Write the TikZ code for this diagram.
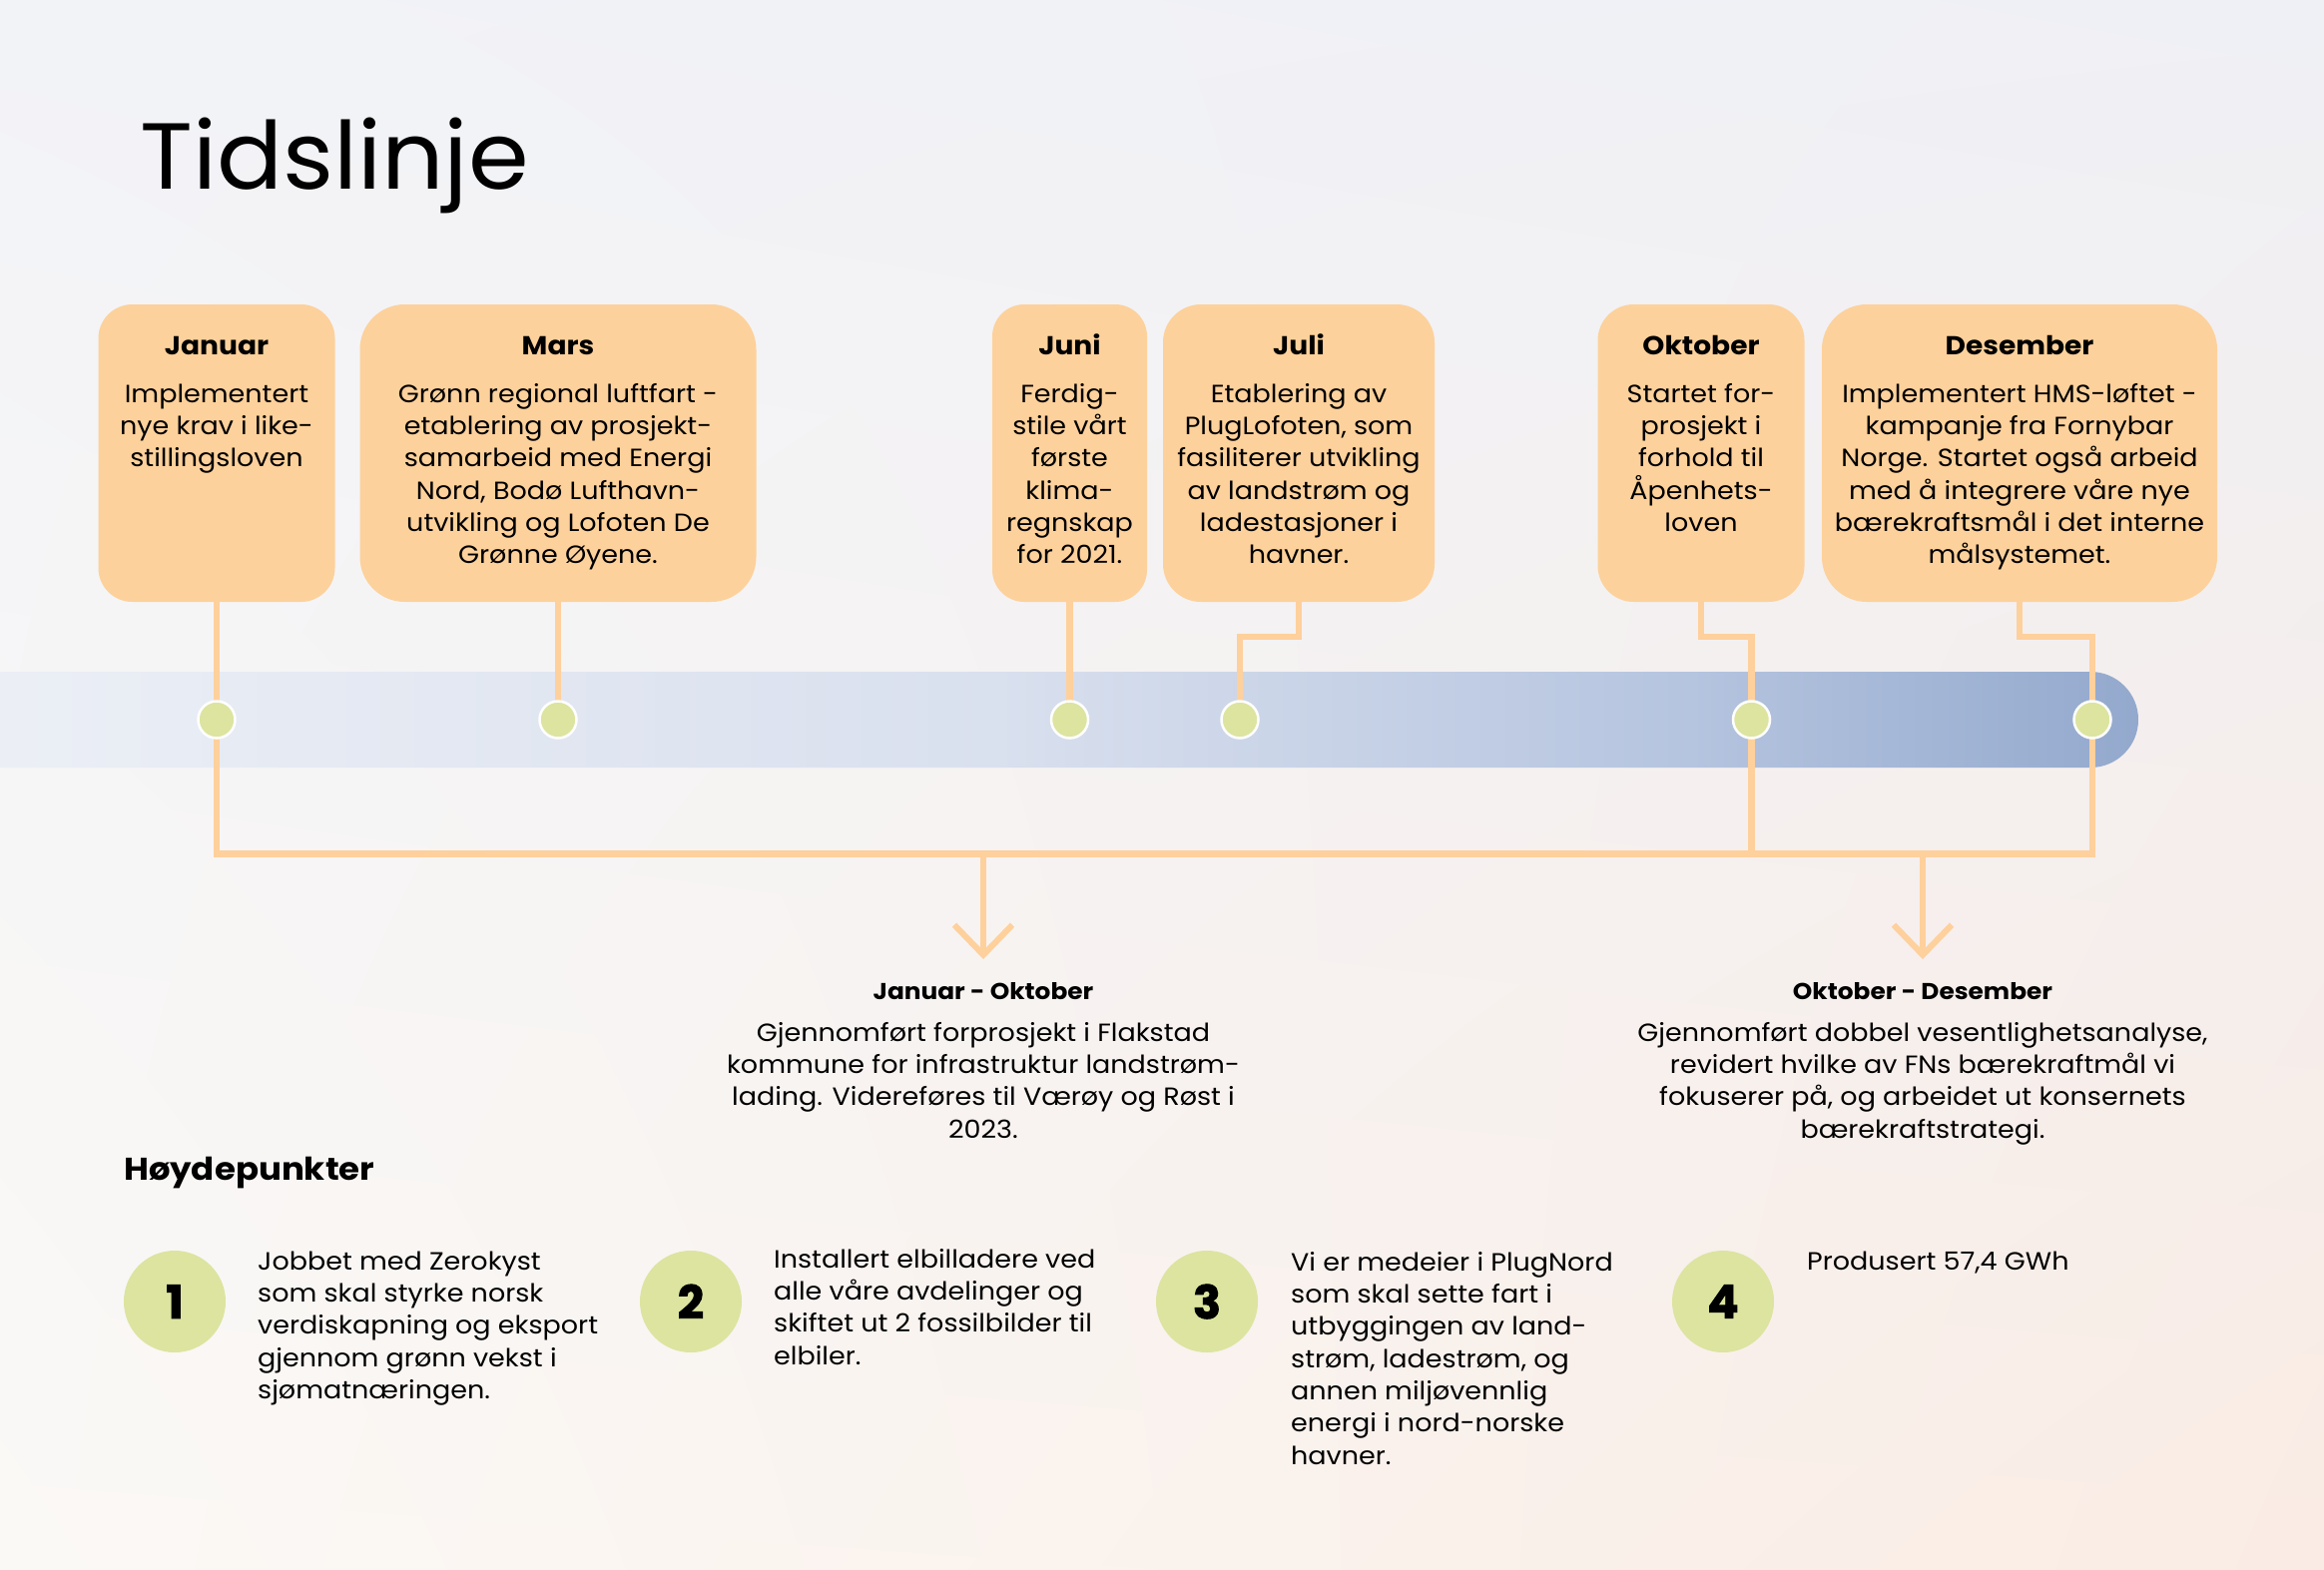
\documentclass[tikz,border=0pt]{standalone}
\usepackage{fontspec}
\setmainfont{Poppins}[FakeStretch=1.08]
\newfontfamily\titlefont{Poppins}[FakeStretch=1.04]
\newfontfamily\numfont{Poppins}[FakeBold=2]
\usetikzlibrary{arrows.meta,shadings}
\definecolor{peach}{HTML}{FDD19B}
\definecolor{peachline}{HTML}{FED09C}
\definecolor{dotc}{HTML}{DCE4A0}
\definecolor{bgTL}{HTML}{F2F3F7}
\definecolor{bgTR}{HTML}{EFF0F5}
\definecolor{bgBL}{HTML}{FBF9F6}
\definecolor{bgBR}{HTML}{FAECE4}
\definecolor{barA}{HTML}{EDF0F6}
\definecolor{barB}{HTML}{D9E0EE}
\definecolor{barC}{HTML}{B5C4DF}
\definecolor{barD}{HTML}{93A9CD}
\pgfdeclarehorizontalshading{barshade}{100bp}{color(0bp)=(barA); color(25bp)=(barA); color(49.5bp)=(barB); color(65bp)=(barC); color(75bp)=(barD); color(100bp)=(barD)}
\newcommand\tlbody{\fontsize{25}{32.3}\selectfont}
\newcommand\tlhead{\fontsize{26}{32}\selectfont\bfseries}
\newcommand\tlphead{\fontsize{23}{30}\selectfont\bfseries}
\newcommand\fl{\rule{0pt}{25pt}}
\tikzset{
  mbox/.style={fill=peach, draw=none, rounded corners=#1, inner sep=0pt},
  mtitle/.style={font=\tlhead, inner sep=0pt, anchor=base},
  ptitle/.style={font=\tlphead, inner sep=0pt, anchor=base},
  mbody/.style={font=\tlbody, align=center, inner sep=0pt, anchor=north},
  hbody/.style={font=\tlbody, align=left, inner sep=0pt, anchor=north west},
  conn/.style={draw=peachline, line width=6.5pt},
  tdot/.style={circle, fill=dotc, draw=white, line width=2.5pt, minimum size=37pt, inner sep=0pt},
  ncirc/.style={circle, fill=dotc, minimum size=102pt, inner sep=0pt, font=\numfont\bfseries\fontsize{46}{46}\selectfont},
  arr/.style={conn, -{Straight Barb[length=30pt, width=58pt, line width=6pt]}}
}
\begin{document}
\begin{tikzpicture}[x=1pt, y=-1pt]
\useasboundingbox (0,0) rectangle (2328,1572);
\shade[upper left=bgTL, upper right=bgTR, lower left=bgBL, lower right=bgBR] (0,0) rectangle (2328,1572);
% timeline bar
\shade[shading=barshade, rounded corners=48pt] (-100,673) rectangle (2142,769);
% title
\node[font=\titlefont\fontsize{94}{94}\selectfont, inner sep=0pt, anchor=base west] (title) at (140,189) {Tidslinje};
% month boxes
\node[mbox=34pt, minimum width=237pt, minimum height=298pt] (jan) at (217,454) {};
\node[mbox=45pt, minimum width=397pt, minimum height=298pt] (mar) at (559,454) {};
\node[mbox=32pt, minimum width=155pt, minimum height=298pt] (jun) at (1071.5,454) {};
\node[mbox=38pt, minimum width=272pt, minimum height=298pt] (jul) at (1301,454) {};
\node[mbox=36pt, minimum width=207pt, minimum height=298pt] (okt) at (1704,454) {};
\node[mbox=45pt, minimum width=396pt, minimum height=298pt] (des) at (2023,454) {};
% titles
\node[mtitle] (jan-h) at (217,355) {Januar};
\node[mtitle] (mar-h) at (559,355) {Mars};
\node[mtitle] (jun-h) at (1071.5,355) {Juni};
\node[mtitle] (jul-h) at (1301,355) {Juli};
\node[mtitle] (okt-h) at (1704,355) {Oktober};
\node[mtitle] (des-h) at (2023,355) {Desember};
% bodies
\node[mbody] (jan-b) at (217,378) {\fl Implementert\\nye krav i like-\\stillingsloven};
\node[mbody] (mar-b) at (559,378) {\fl Grønn regional luftfart -\\etablering av prosjekt-\\samarbeid med Energi\\Nord, Bodø Lufthavn-\\utvikling og Lofoten De\\Grønne Øyene.};
\node[mbody] (jun-b) at (1071.5,378) {\fl Ferdig-\\stile vårt\\første\\klima-\\regnskap\\for 2021.};
\node[mbody] (jul-b) at (1301,378) {\fl Etablering av\\PlugLofoten, som\\fasiliterer utvikling\\av landstrøm og\\ladestasjoner i\\havner.};
\node[mbody] (okt-b) at (1704,378) {\fl Startet for-\\prosjekt i\\forhold til\\Åpenhets-\\loven};
\node[mbody] (des-b) at (2023,378) {\fl Implementert HMS-løftet -\\kampanje fra Fornybar\\Norge. Startet også arbeid\\med å integrere våre nye\\bærekraftsmål i det interne\\målsystemet.};
% dot coordinates
\coordinate (jd) at (217,721);
\coordinate (md) at (559,721);
\coordinate (jud) at (1071.5,721);
\coordinate (jld) at (1242,721);
\coordinate (od) at (1754.5,721);
\coordinate (dd) at (2096,721);
\coordinate (hl) at (0,855.5);
% connectors box -> dot
\draw[conn] (jan.south) -- (jd);
\draw[conn] (mar.south) -- (md);
\draw[conn] (jun.south) -- (jud);
\draw[conn] (jul.south) -- ++(0,35) -| (jld);
\draw[conn] (okt.south) -- ++(0,35) -| (od);
\draw[conn] (des.south) -- ++(0,35) -| (dd);
% bottom bracket
\draw[conn] (jd) -- (jd |- hl) -- (dd |- hl) -- (dd);
\draw[conn] (od) -- (od |- hl);
% arrows
\coordinate (a1s) at (985,855.5);
\coordinate (a1e) at (985,961);
\coordinate (a2s) at (1926,855.5);
\coordinate (a2e) at (1926,961);
\draw[arr] (a1s) -- (a1e);
\draw[arr] (a2s) -- (a2e);
% dots
\node[tdot] (jdot) at (jd) {};
\node[tdot] (mdot) at (md) {};
\node[tdot] (judot) at (jud) {};
\node[tdot] (jldot) at (jld) {};
\node[tdot] (odot) at (od) {};
\node[tdot] (ddot) at (dd) {};
% period texts
\node[ptitle] (jo-h) at (985,1001.7) {Januar - Oktober};
\node[mbody] (jo-b) at (985,1018) {\fl Gjennomført forprosjekt i Flakstad\\kommune for infrastruktur landstrøm-\\lading. Videreføres til Værøy og Røst i\\2023.};
\node[ptitle] (od-h) at (1926,1001.7) {Oktober - Desember};
\node[mbody] (od-b) at (1926,1018) {\fl Gjennomført dobbel vesentlighetsanalyse,\\revidert hvilke av FNs bærekraftmål vi\\fokuserer på, og arbeidet ut konsernets\\bærekraftstrategi.};
% highlights
\node[font=\fontsize{31.5}{31.5}\selectfont\bfseries, inner sep=0pt, anchor=base west] (hp) at (124,1182.7) {Høydepunkter};
\node[ncirc] (n1) at (175,1304) {1};
\node[ncirc] (n2) at (692,1304) {2};
\node[ncirc] (n3) at (1209,1304) {3};
\node[ncirc] (n4) at (1726,1304) {4};
\node[hbody] (h1) at (258,1247) {\fl Jobbet med Zerokyst\\som skal styrke norsk\\verdiskapning og eksport\\gjennom grønn vekst i\\sjømatnæringen.};
\node[hbody] (h2) at (775,1245) {\fl Installert elbilladere ved\\alle våre avdelinger og\\skiftet ut 2 fossilbilder til\\elbiler.};
\node[hbody] (h3) at (1293,1248) {\fl Vi er medeier i PlugNord\\som skal sette fart i\\utbyggingen av land-\\strøm, ladestrøm, og\\annen miljøvennlig\\energi i nord-norske\\havner.};
\node[hbody] (h4) at (1810,1247) {\fl Produsert 57,4 GWh};
\end{tikzpicture}
\end{document}
